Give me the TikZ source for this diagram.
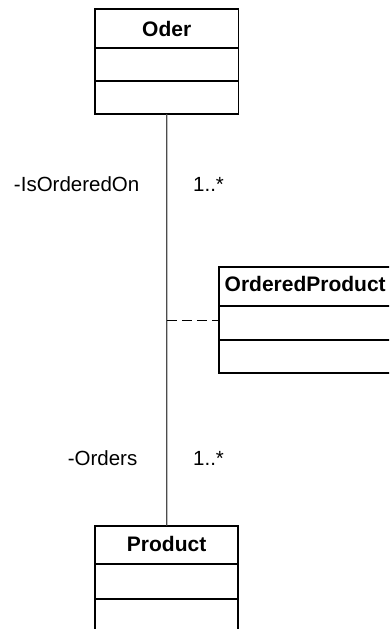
\documentclass[tikz,border=0pt]{standalone}
\usepackage{fontspec}
\setmainfont{Liberation Sans}
\begin{document}
\begin{tikzpicture}[x=1pt,y=-1pt,
  classbox/.style={draw=black,line width=1.8pt,rectangle,inner sep=0pt,outer sep=0pt},
  divider/.style={draw=black,line width=1.8pt},
  classtitle/.style={font=\fontsize{21}{25}\selectfont\bfseries,inner sep=0pt,anchor=base},
  lbl/.style={font=\fontsize{20.5}{24}\selectfont,inner sep=0pt},
  conn/.style={draw=black!70,line width=1.3pt},
  assocline/.style={draw=black,line width=1.2pt,dash pattern=on 10pt off 5pt},
  ]
\clip (0,0) rectangle (389,629);
\fill[white] (0,0) rectangle (389,629);
% Oder
\node[classbox,minimum width=143.5pt,minimum height=105pt] (oder) at (166.75,61.5) {};
\draw[divider] (95,47.7) -- (238.5,47.7);
\draw[divider] (95,80.7) -- (238.5,80.7);
\node[classtitle] (odert) at (166.75,36) {Oder};
% OrderedProduct
\node[classbox,minimum width=176pt,minimum height=106pt] (op) at (307,320.3) {};
\draw[divider] (219,305.7) -- (395,305.7);
\draw[divider] (219,340) -- (395,340);
\node[classtitle,anchor=base west] (opt) at (224.5,291.7) {OrderedProduct};
% Product
\node[classbox,minimum width=143.3pt,minimum height=107pt] (product) at (166.65,579.2) {};
\draw[divider] (95,564.3) -- (238.3,564.3);
\draw[divider] (95,598.7) -- (238.3,598.7);
\node[classtitle] (prodt) at (166.65,551.7) {Product};
% association
\draw[conn] (oder.south) -- (product.north);
\coordinate (assoc) at (oder.south |- op.west);
\draw[assocline] (assoc) -- (op.west);
% labels
\node[lbl,anchor=base east] (l1) at (139.5,191) {-IsOrderedOn};
\node[lbl,anchor=base west] (m1) at (193,191) {1..*};
\node[lbl,anchor=base east] (l2) at (137.5,465) {-Orders};
\node[lbl,anchor=base west] (m2) at (193,465) {1..*};
\end{tikzpicture}
\end{document}
